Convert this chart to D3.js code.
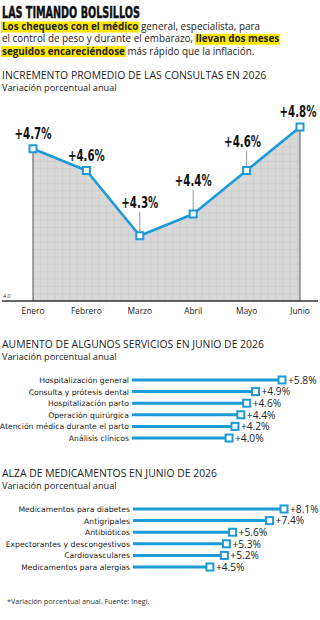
<!DOCTYPE html>
<html>
<head>
<meta charset="utf-8">
<script src="https://cdn.jsdelivr.net/npm/d3@7/dist/d3.min.js"></script>
<style>
  body { margin: 0; background: #fff; }
  svg { display: block; }
  text { white-space: pre; }
</style>
</head>
<body>
<script>
// data
var meses = ["Enero", "Febrero", "Marzo", "Abril", "Mayo", "Junio"];
var consultas = [4.7, 4.6, 4.3, 4.4, 4.6, 4.8];

var servicios = ["Hospitalización general", "Consulta y prótesis dental", "Hospitalización parto",
                 "Operación quirúrgica", "Atención médica durante el parto", "Análisis clínicos"];
var serviciosVal = [5.8, 4.9, 4.6, 4.4, 4.2, 4.0];

var medicamentos = ["Medicamentos para diabetes", "Antigripales", "Antibióticos",
                    "Expectorantes y descongestivos", "Cardiovasculares", "Medicamentos para alergias"];
var medicamentosVal = [8.1, 7.4, 5.6, 5.3, 5.2, 4.5];

var blue = "#1b9ad6";
var sans = "'Open Sans', 'Noto Sans', sans-serif";
var wide = "'DejaVu Sans', sans-serif";
var heavy = "'DejaVu Sans', 'Liberation Sans', sans-serif";

var svg = d3.select("body").append("svg")
    .attr("width", 320)
    .attr("height", 620);

// squeeze a text horizontally so it fills w pixels from (x0, y0)
function squeezed(x0, y0, w, size, str) {
  var t = svg.append("text")
      .attr("font-family", heavy)
      .attr("font-weight", 700)
      .attr("font-size", size)
      .attr("fill", "#111")
      .text(str);
  var k = w / t.node().getComputedTextLength();
  t.attr("transform", "translate(" + x0 + "," + y0 + ") scale(" + k + ",1)");
  return t;
}

// headline
squeezed(2, 17.5, 138, 15, "LAS TIMANDO BOLSILLOS")
    .attr("stroke", "#111")
    .attr("stroke-width", 0.5);

// intro paragraph, bold parts highlighted
var intro = [
  [["Los chequeos con el médico", true], [" general, especialista, para", false]],
  [["el control de peso y durante el embarazo, ", false], ["llevan dos meses", true]],
  [["seguidos encareciéndose", true], [" más rápido que la inflación.", false]]
];

intro.forEach(function(line, i) {
  var cx = 2, base = 30 + i * 12.3;
  line.forEach(function(seg) {
    var hl = svg.append("rect");
    var t = svg.append("text")
        .attr("x", cx).attr("y", base)
        .attr("font-family", sans)
        .attr("font-size", 9.9)
        .attr("font-weight", seg[1] ? 700 : 400)
        .attr("fill", "#222")
        .text(seg[0]);
    var w = t.node().getComputedTextLength();
    if (seg[1]) {
      hl.attr("x", cx - 1).attr("y", base - 8.5).attr("width", w + 2).attr("height", 11)
        .attr("fill", "#ffe600");
    } else {
      hl.remove();
    }
    cx += w;
  });
});

function sectionTitle(y, title) {
  svg.append("text")
      .attr("x", 2).attr("y", y)
      .attr("font-family", sans)
      .attr("font-size", 10.4)
      .attr("fill", "#222")
      .text(title);
  svg.append("text")
      .attr("x", 2).attr("y", y + 11.5)
      .attr("font-family", sans)
      .attr("font-size", 9.2)
      .attr("fill", "#222")
      .text("Variación porcentual anual");
}

// ---- line chart ----
sectionTitle(79, "INCREMENTO PROMEDIO DE LAS CONSULTAS EN 2026");

var x = d3.scalePoint().domain(meses).range([33, 300]);
var y = d3.scaleLinear().domain([4.0, 4.8]).range([301, 127]);

var pts = meses.map(function(m, i) { return {m: m, v: consultas[i]}; });

var area = d3.area()
    .x(function(d) { return x(d.m); })
    .y0(y(4.0))
    .y1(function(d) { return y(d.v); });

var line = d3.line()
    .x(function(d) { return x(d.m); })
    .y(function(d) { return y(d.v); });

svg.append("clipPath").attr("id", "areaclip")
  .append("path").attr("d", area(pts));

svg.append("path")
    .attr("d", area(pts))
    .attr("fill", "#d8d8d8");

var grid = svg.append("g").attr("clip-path", "url(#areaclip)")
    .attr("stroke", "#c6c6c6").attr("stroke-width", 0.5);
d3.range(x.range()[0], x.range()[1], 7.35).forEach(function(gx) {
  grid.append("line").attr("x1", gx).attr("x2", gx).attr("y1", 100).attr("y2", 301);
});
d3.range(301, 110, -7.35).forEach(function(gy) {
  grid.append("line").attr("x1", 30).attr("x2", 303).attr("y1", gy).attr("y2", gy);
});

// side edges
[pts[0], pts[pts.length - 1]].forEach(function(d) {
  svg.append("line")
      .attr("x1", x(d.m)).attr("x2", x(d.m))
      .attr("y1", y(d.v)).attr("y2", y(4.0))
      .attr("stroke", "#555").attr("stroke-width", 1);
});

// axis
svg.append("line")
    .attr("x1", 2).attr("x2", 318)
    .attr("y1", y(4.0)).attr("y2", y(4.0))
    .attr("stroke", "#333").attr("stroke-width", 1.5);

svg.append("text")
    .attr("x", 3).attr("y", y(4.0) - 3)
    .attr("font-family", sans).attr("font-size", 5.5).attr("fill", "#333")
    .text("4.0");

svg.selectAll(".mes")
  .data(meses)
  .enter().append("text")
    .attr("x", function(d) { return x(d); })
    .attr("y", 314)
    .attr("text-anchor", "middle")
    .attr("font-family", sans).attr("font-size", 8.4).attr("fill", "#222")
    .text(function(d) { return d; });

svg.append("path")
    .attr("d", line(pts))
    .attr("fill", "none")
    .attr("stroke", blue)
    .attr("stroke-width", 2.6)
    .attr("stroke-linejoin", "round");

// labels: some sit above with a leader line
var conGuia = [false, false, true, true, true, false];
pts.forEach(function(d, i) {
  var px = x(d.m), py = y(d.v);
  var lift = conGuia[i] ? (i == 4 ? 24 : 28) : 10;
  var lx = (i == 4) ? px - 4 : px;
  if (i == 5) lx = px - 2;
  if (conGuia[i]) {
    svg.append("line")
        .attr("x1", px).attr("x2", px)
        .attr("y1", py - lift + 4).attr("y2", py - 4)
        .attr("stroke", "#666").attr("stroke-width", 0.7);
  }
  squeezed(lx - 18.5, py - lift, 37, 15, "+" + d.v.toFixed(1) + "%");
});

svg.selectAll(".pt")
  .data(pts)
  .enter().append("rect")
    .attr("x", function(d) { return x(d.m) - 3.5; })
    .attr("y", function(d) { return y(d.v) - 3.5; })
    .attr("width", 7).attr("height", 7)
    .attr("fill", "#fff")
    .attr("stroke", blue)
    .attr("stroke-width", 2);

// ---- bar-ish charts ----
function lollipop(top, cats, vals, xs) {
  var yb = d3.scalePoint().domain(cats).range([top, top + 58]);
  var g = svg.append("g");

  g.selectAll(".cat")
    .data(cats)
    .enter().append("text")
      .attr("x", xs.range()[0] - 3)
      .attr("y", function(d) { return yb(d) + 3; })
      .attr("text-anchor", "end")
      .attr("font-family", wide).attr("font-size", 7.7).attr("fill", "#222")
      .text(function(d) { return d; });

  g.selectAll(".bar")
    .data(vals)
    .enter().append("line")
      .attr("x1", xs.range()[0])
      .attr("x2", function(d) { return xs(d); })
      .attr("y1", function(d, i) { return yb(cats[i]); })
      .attr("y2", function(d, i) { return yb(cats[i]); })
      .attr("stroke", blue).attr("stroke-width", 3);

  g.selectAll(".mk")
    .data(vals)
    .enter().append("rect")
      .attr("x", function(d) { return xs(d) - 3.5; })
      .attr("y", function(d, i) { return yb(cats[i]) - 3.5; })
      .attr("width", 7).attr("height", 7)
      .attr("fill", "#fff").attr("stroke", blue).attr("stroke-width", 2);

  g.selectAll(".val")
    .data(vals)
    .enter().append("text")
      .attr("x", function(d) { return xs(d) + 6; })
      .attr("y", function(d, i) { return yb(cats[i]) + 3.8; })
      .attr("font-family", sans).attr("font-size", 10.2).attr("fill", "#222")
      .text(function(d) { return "+" + d.toFixed(1) + "%"; });
}

sectionTitle(348, "AUMENTO DE ALGUNOS SERVICIOS EN JUNIO DE 2026");
lollipop(380, servicios, serviciosVal, d3.scaleLinear().domain([0.7, 5.8]).range([132, 282]));

sectionTitle(477, "ALZA DE MEDICAMENTOS EN JUNIO DE 2026");
lollipop(509, medicamentos, medicamentosVal, d3.scaleLinear().domain([0.76, 8.1]).range([133, 284]));

svg.append("text")
    .attr("x", 7).attr("y", 604)
    .attr("font-family", sans).attr("font-size", 7.2).attr("fill", "#333")
    .text("*Variación porcentual anual. Fuente: Inegi.");
</script>
</body>
</html>
